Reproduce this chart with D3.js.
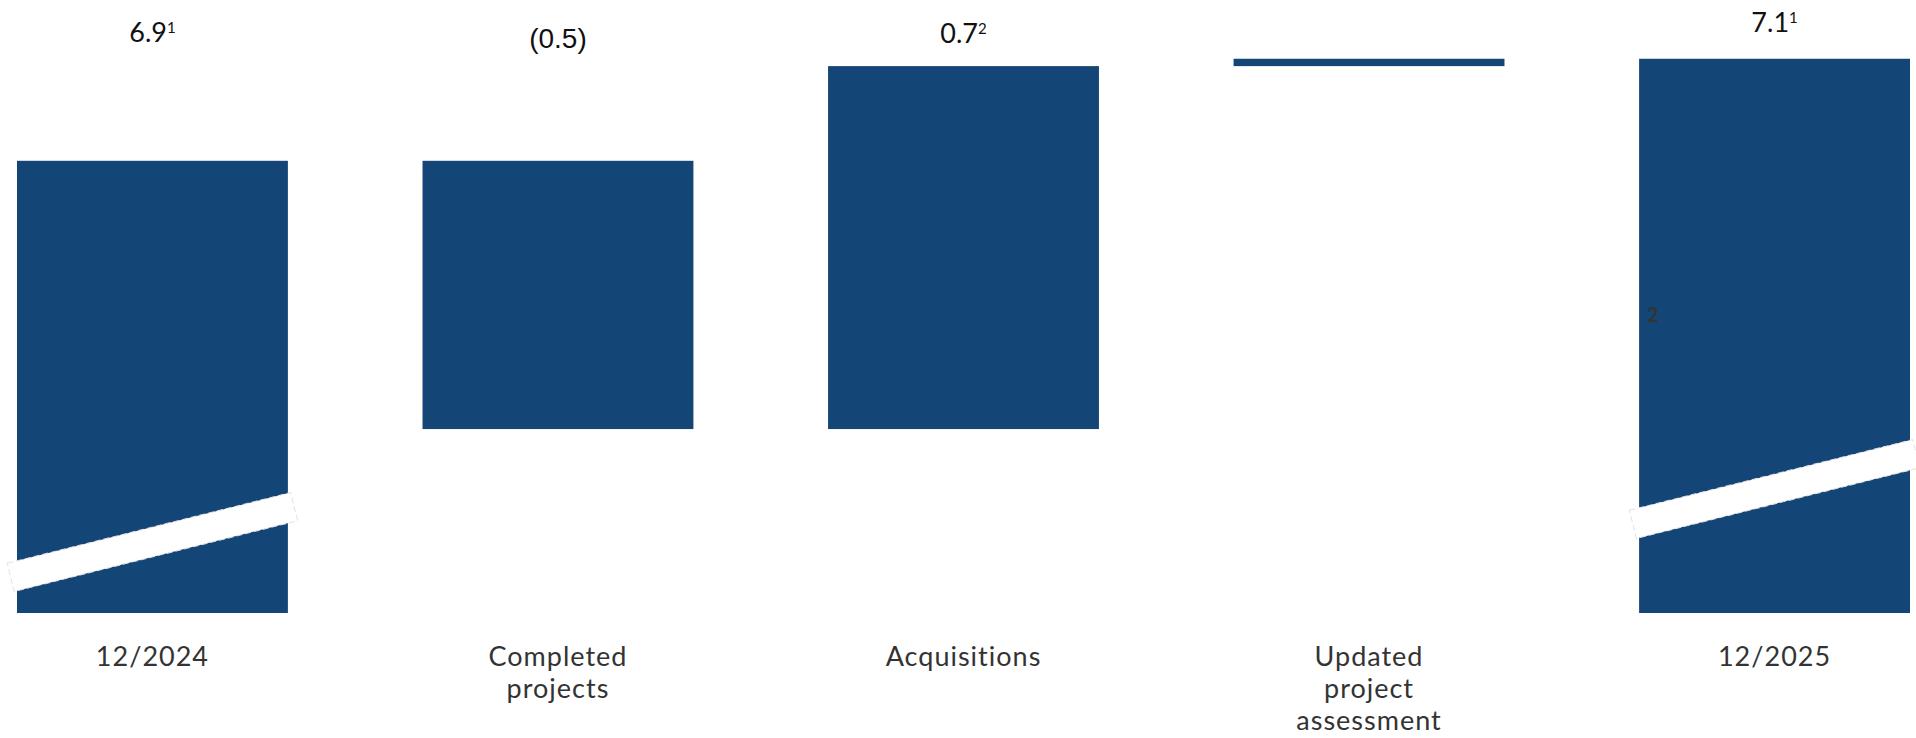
<!DOCTYPE html>
<html>
<head>
<meta charset="utf-8">
<script src="https://cdn.jsdelivr.net/npm/d3@7"></script>
<style>
  body { margin: 0; background: #fff; }
  svg { display: block; }
</style>
</head>
<body>
<div id="chart"></div>
<script>
// waterfall: totals and changes (bn)
var categories = ["12/2024", "Completed projects", "Acquisitions", "Updated project assessment", "12/2025"];
var kinds = ["total", "delta", "delta", "delta", "total"];
var values = [6.9, -0.51, 0.69, 0.014, 7.094];
var valueLabels = ["6.9", "(0.5)", "0.7", "", "7.1"];
var footnotes = ["1", "", "2", "", "1"];

var width = 1916, height = 738;
var baseY = 613;
var barColor = "#134677";

var svg = d3.select("#chart").append("svg")
  .attr("width", width)
  .attr("height", height);

var x = d3.scaleBand()
  .domain(categories)
  .range([17, 1910])
  .paddingInner(0.332)
  .paddingOuter(0);

// broken axis: bottom part squeezed, top part stretched
var y = d3.scaleLinear()
  .domain([0, 6.2, 7.2])
  .range([baseY, 529, 3]);

// build start/end of each bar
var bars = [];
var running = 0;
categories.forEach(function (c, i) {
  var d = { cat: c, kind: kinds[i], value: values[i], label: valueLabels[i], note: footnotes[i] };
  if (d.kind == "total") {
    d.y0 = 0; d.y1 = d.value; running = d.value;
  } else {
    d.y0 = running; d.y1 = running + d.value; running = d.y1;
  }
  bars.push(d);
});

svg.selectAll(".bar")
  .data(bars).enter()
  .append("rect")
  .attr("class", "bar")
  .attr("x", function (d) { return x(d.cat); })
  .attr("width", x.bandwidth())
  .attr("y", function (d) { return y(Math.max(d.y0, d.y1)); })
  .attr("height", function (d) { return Math.abs(y(d.y0) - y(d.y1)); })
  .style("fill", barColor);

// axis break bands on the total bars
var breakRise = { "12/2024": 71, "12/2025": 124 };
svg.selectAll(".brk")
  .data(bars.filter(function (d) { return d.kind == "total"; })).enter()
  .append("rect")
  .attr("class", "brk")
  .attr("x", -146).attr("y", -14.5)
  .attr("width", 292).attr("height", 29)
  .attr("transform", function (d) {
    var cx = x(d.cat) + x.bandwidth() / 2;
    return "translate(" + cx + "," + (baseY - breakRise[d.cat]) + ") rotate(-14)";
  })
  .style("fill", "#fff")
  .style("stroke", "#e2e2e2")
  .style("stroke-width", 1)
  .style("stroke-dasharray", "6,3");

// value labels (stylised, not tied to bar tops)
var labelY = [42, 48, 43, 0, 32];
var lbl = svg.selectAll(".val")
  .data(bars).enter()
  .append("text")
  .attr("class", "val")
  .attr("x", function (d) { return x(d.cat) + x.bandwidth() / 2; })
  .attr("y", function (d, i) { return labelY[i]; })
  .attr("text-anchor", "middle")
  .style("font-family", function (d) { return d.label.charAt(0) == "(" ? "Liberation Sans, Arial, sans-serif" : "Lato, sans-serif"; })
  .style("font-size", function (d) { return d.label.charAt(0) == "(" ? "28px" : "27px"; })
  .style("fill", "#111");

lbl.append("tspan").text(function (d) { return d.label; });
lbl.append("tspan")
  .attr("dy", "-0.6em")
  .style("font-size", "15px")
  .text(function (d) { return d.note; });

// category labels
var cat = svg.selectAll(".cat")
  .data(bars).enter()
  .append("text")
  .attr("class", "cat")
  .attr("x", function (d) { return x(d.cat) + x.bandwidth() / 2; })
  .attr("y", 666)
  .attr("text-anchor", "middle")
  .style("font-family", "Lato, sans-serif")
  .style("font-size", "27px")
  .style("letter-spacing", "1px")
  .style("fill", "#333");

var wraps = {
  "Completed projects": ["Completed", "projects"],
  "Updated project assessment": ["Updated", "project", "assessment"]
};
cat.each(function (d) {
  var lines = wraps[d.cat] || [d.cat];
  var t = d3.select(this);
  var cx = x(d.cat) + x.bandwidth() / 2;
  lines.forEach(function (l, k) {
    t.append("tspan").attr("x", cx).attr("dy", k == 0 ? 0 : 32).text(l);
  });
});

// stray footnote marker inside the last bar
var last = bars[bars.length - 1];
svg.append("text")
  .attr("x", x(last.cat) + 8)
  .attr("y", 322)
  .style("font-family", "Lato, sans-serif")
  .style("font-weight", "bold")
  .style("font-size", "20px")
  .style("fill", "#333")
  .text("2");
</script>
</body>
</html>
